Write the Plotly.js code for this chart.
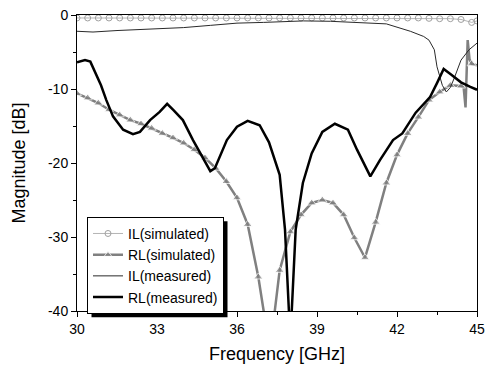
<!DOCTYPE html>
<html>
<head>
<meta charset="utf-8">
<script src="https://cdn.plot.ly/plotly-3.0.1.min.js"></script>
<style>html,body{margin:0;padding:0;background:#fff;}#chart{width:486px;height:367px;}</style>
</head>
<body>
<div id="chart"></div>
<script>
// ---- data ----
const simFreq = [30.0,30.4,30.8,31.2,31.6,32.0,32.4,32.8,33.2,33.6,34.0,34.4,34.8,35.2,35.6,36.0,36.4,36.8,37.2,37.6,38.0,38.4,38.8,39.2,39.6,40.0,40.4,40.8,41.2,41.6,42.0,42.4,42.8,43.2,43.6,44.0,44.4,44.8,45.0];
const ilSim = [-0.4,-0.4,-0.4,-0.4,-0.4,-0.4,-0.4,-0.4,-0.4,-0.4,-0.4,-0.4,-0.4,-0.4,-0.4,-0.4,-0.4,-0.4,-0.4,-0.4,-0.4,-0.4,-0.4,-0.4,-0.4,-0.4,-0.4,-0.4,-0.4,-0.4,-0.4,-0.4,-0.4,-0.45,-0.5,-0.5,-0.6,-1.0,-0.8];

const rlSimFreq = [30.0,30.4,30.8,31.2,31.6,32.0,32.4,32.8,33.2,33.6,34.0,34.4,34.8,35.2,35.6,36.0,36.4,36.8,37.0,37.2,37.4,37.6,38.0,38.4,38.8,39.2,39.6,40.0,40.4,40.8,41.2,41.6,42.0,42.4,42.8,43.2,43.6,44.0,44.4,44.5,44.57,44.65,44.72,44.8,45.0];
const rlSim = [-10.6,-11.2,-11.9,-12.8,-13.5,-14.2,-14.7,-15.3,-16.0,-16.6,-17.3,-18.2,-19.3,-20.7,-22.5,-24.7,-28.3,-35.4,-40.0,-48.0,-40.5,-34.5,-29.3,-27.0,-25.4,-25.0,-25.4,-27.0,-30.1,-32.8,-28.0,-22.7,-18.9,-16.0,-13.8,-11.5,-10.4,-9.5,-9.6,-9.8,-12.5,-3.4,-6.0,-6.6,-6.8];

const ilMeasFreq = [30.0,30.6,31.5,33.0,34.0,35.0,35.5,36.0,37.0,38.5,39.5,40.5,41.6,42.5,43.0,43.2,43.4,43.5,43.6,43.7,43.85,44.0,44.15,44.4,44.7,45.0];
const ilMeas = [-2.2,-2.3,-2.1,-1.9,-1.7,-1.4,-1.2,-1.1,-1.0,-0.8,-0.85,-1.0,-1.2,-2.2,-2.9,-3.4,-4.7,-7.0,-8.2,-9.5,-10.4,-9.8,-8.5,-6.1,-4.7,-3.8];

const rlMeasFreq = [30.0,30.3,30.5,30.7,30.9,31.1,31.35,31.73,32.1,32.36,32.74,33.1,33.38,33.6,33.97,34.35,34.72,35.0,35.17,35.62,36.0,36.4,36.85,37.2,37.6,37.8,38.0,38.2,38.47,38.8,39.2,39.67,40.16,40.5,41.0,41.36,41.85,42.2,42.7,43.24,43.5,43.65,43.75,44.05,44.4,44.75,45.0];
const rlMeas = [-6.4,-6.1,-6.3,-7.8,-9.5,-11.5,-13.7,-15.5,-16.1,-15.8,-14.2,-13.1,-12.0,-12.8,-14.2,-16.9,-19.2,-21.1,-20.7,-16.9,-15.1,-14.3,-14.9,-17.2,-21.6,-29.0,-44.0,-29.0,-22.7,-18.7,-15.8,-14.7,-15.5,-18.2,-21.8,-19.6,-16.9,-16.0,-13.2,-11.1,-9.2,-8.1,-7.3,-8.1,-9.1,-9.7,-10.1];

const seriesNames = ['IL(simulated)','RL(simulated)','IL(measured)','RL(measured)'];
const xTicks = [30,33,36,39,42,45];
const yTicks = [0,-10,-20,-30,-40];

// markers only on the regular 0.4 GHz grid
const triSizes = rlSimFreq.map(f => Math.abs((f-30)/0.4 - Math.round((f-30)/0.4)) < 0.01 ? 8 : 0);

const traces = [
  {x: simFreq, y: ilSim, name: seriesNames[0], mode: 'lines+markers',
   line: {color: '#b4b4b4', width: 1},
   marker: {symbol: 'circle-open', size: 6, color: '#a0a0a0', line: {width: 1}}},
  {x: rlSimFreq, y: rlSim, name: seriesNames[1], mode: 'lines+markers',
   line: {color: '#808080', width: 2.5},
   marker: {symbol: 'triangle-up', size: triSizes, color: '#808080'}},
  {x: ilMeasFreq, y: ilMeas, name: seriesNames[2], mode: 'lines',
   line: {color: '#2a2a2a', width: 1}},
  {x: rlMeasFreq, y: rlMeas, name: seriesNames[3], mode: 'lines',
   line: {color: '#000000', width: 2.5}}
];

const fontFam = 'Arial, "Liberation Sans", sans-serif';
const L = 77, R = 9, T = 15, B = 56, W = 486, H = 367;
const layout = {
  width: W, height: H,
  margin: {l: L, r: R, t: T, b: B},
  paper_bgcolor: '#fff', plot_bgcolor: '#fff',
  font: {family: fontFam, size: 14, color: '#000'},
  showlegend: true,
  legend: {x: 0.025, y: 0.318, xanchor: 'left', yanchor: 'top',
    bgcolor: '#fff', bordercolor: '#000', borderwidth: 1,
    font: {family: fontFam, size: 14, color: '#000'}, tracegroupgap: 0, itemwidth: 30},
  xaxis: {range: [30, 45], tickvals: xTicks, ticktext: xTicks.map(String),
    ticks: 'outside', ticklen: 5, tickwidth: 1, tickcolor: '#000',
    minor: {dtick: 1.5, tick0: 30, ticks: 'outside', ticklen: 3, tickcolor: '#000', showgrid: false},
    showline: true, linecolor: '#000', linewidth: 1, mirror: true,
    showgrid: false, zeroline: false,
    tickfont: {size: 14, family: fontFam},
    title: {text: 'Frequency [GHz]', font: {size: 18, family: fontFam}, standoff: 11}},
  yaxis: {range: [-40, 0], tickvals: yTicks, ticktext: yTicks.map(String),
    ticks: 'outside', ticklen: 5, tickwidth: 1, tickcolor: '#000',
    minor: {dtick: 5, tick0: 0, ticks: 'outside', ticklen: 3, tickcolor: '#000', showgrid: false},
    showline: true, linecolor: '#000', linewidth: 1, mirror: true,
    showgrid: false, zeroline: false,
    tickfont: {size: 14, family: fontFam},
    title: {text: 'Magnitude [dB]', font: {size: 18, family: fontFam}, standoff: 17}},
  yaxis2: {range: [-40, 0], overlaying: 'y', side: 'right', tickvals: yTicks,
    showticklabels: false, ticks: 'inside', ticklen: 5, tickcolor: '#000',
    showgrid: false, zeroline: false, showline: false},
  shapes: []
};

Plotly.newPlot('chart', traces, layout, {displayModeBar: false, staticPlot: true}).then(gd => {
  // drop shadow behind the legend box, offset by a few pixels
  const bg = gd.querySelector('.legend .bg');
  if (!bg) return;
  const r = bg.getBoundingClientRect();
  const pw = W - L - R, ph = H - T - B, off = 4;
  const shadow = {type: 'rect', xref: 'paper', yref: 'paper',
    x0: (r.left + off - L) / pw, x1: (r.right + off - L) / pw,
    y0: (H - B - (r.bottom + off)) / ph, y1: (H - B - (r.top + off)) / ph,
    fillcolor: '#000', line: {width: 0}, layer: 'above'};
  return Plotly.relayout(gd, {shapes: [shadow]});
});
</script>
</body>
</html>
